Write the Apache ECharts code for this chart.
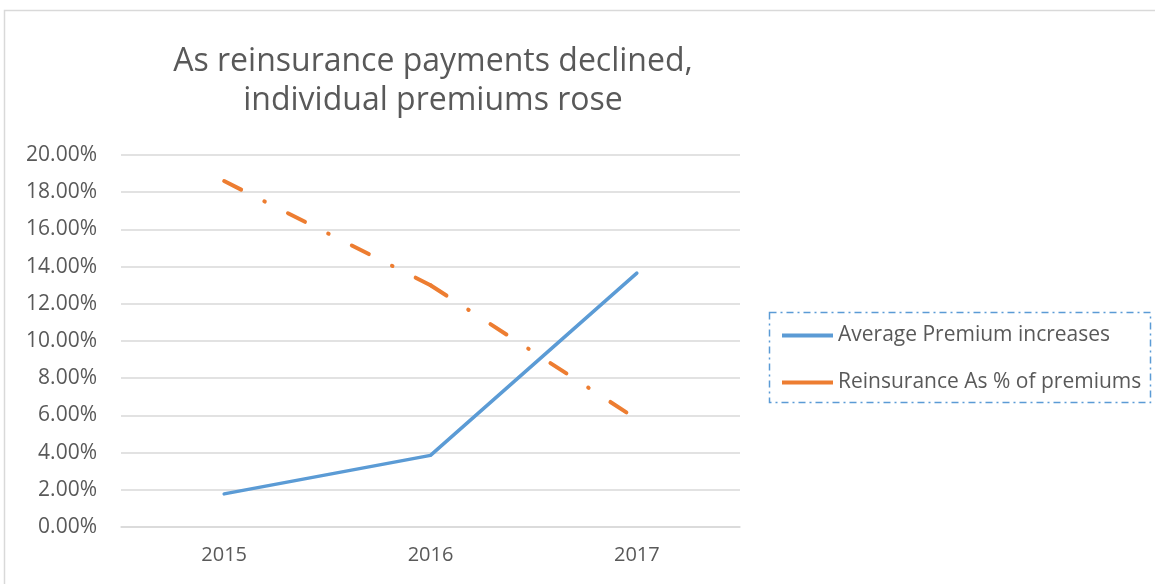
<!DOCTYPE html>
<html>
<head>
<meta charset="utf-8">
<script src="https://cdn.jsdelivr.net/npm/echarts@6/dist/echarts.min.js"></script>
<style>
  html, body { margin: 0; padding: 0; background: #fff; }
  #chart { width: 1155px; height: 584px; }
</style>
</head>
<body>
<div id="chart"></div>
<script>
// data
var years = ['2015', '2016', '2017']
var avgPremium = [1.78, 3.85, 13.65]
var reinsurance = [18.6, 13.0, 5.8]
var seriesNames = ['Average Premium increases', 'Reinsurance As % of premiums']

var gray = '#595959'
var blue = '#5b9bd5'
var orange = '#ed7d31'
var fontFamily = '"Open Sans", Lato, sans-serif'

// the dash pattern restarts at every point (like Excel does),
// so the dashed series is drawn one segment at a time
function segment(arr, i) {
  return arr.map(function (v, j) { return (j === i || j === i + 1) ? v : '-' })
}
var orangeSeries = []
for (var i = 0; i < reinsurance.length - 1; i++) {
  orangeSeries.push({
    name: seriesNames[1],
    type: 'line',
    data: segment(reinsurance, i),
    symbol: 'none',
    itemStyle: { color: orange },
    lineStyle: {
      color: orange,
      width: 4,
      // long dash, dot
      type: [19, 26, 0.5, 26],
      cap: 'round',
      join: 'round'
    }
  })
}

var myChart = echarts.init(document.getElementById('chart'))
var option = {
  animation: false,
  title: {
    text: 'As reinsurance payments declined,\nindividual premiums rose',
    left: 428,
    top: 37,
    textAlign: 'center',
    textStyle: {
      fontFamily: fontFamily,
      fontWeight: 'normal',
      fontSize: 32,
      lineHeight: 39,
      color: gray
    }
  },
  // outer frame + legend box
  graphic: [
    {
      type: 'rect',
      shape: { x: 4.5, y: 10.5, width: 1200, height: 700 },
      style: { fill: 'none', stroke: '#d9d9d9', lineWidth: 1.5 },
      silent: true
    },
    {
      type: 'rect',
      shape: { x: 769.5, y: 312.5, width: 381, height: 90 },
      style: { fill: 'none', stroke: blue, lineWidth: 1.5, lineDash: [7, 4, 2, 4] },
      silent: true
    }
  ],
  legend: {
    data: seriesNames,
    orient: 'vertical',
    left: 782,
    top: 325,
    padding: 0,
    icon: 'rect',
    itemWidth: 51,
    itemHeight: 4,
    itemGap: 26,
    textStyle: {
      fontFamily: fontFamily,
      fontSize: 21,
      lineHeight: 20,
      color: gray
    }
  },
  grid: {
    left: 121,
    right: 415,
    top: 155,
    bottom: 57
  },
  xAxis: {
    type: 'category',
    data: years,
    boundaryGap: true,
    axisLine: { show: true, lineStyle: { color: '#d9d9d9', width: 1.5 } },
    axisTick: { show: false },
    axisLabel: {
      color: gray,
      fontFamily: fontFamily,
      fontSize: 20,
      margin: 18
    }
  },
  yAxis: {
    type: 'value',
    min: 0,
    max: 20,
    interval: 2,
    axisLine: { show: false },
    axisTick: { show: false },
    axisLabel: {
      color: gray,
      fontFamily: fontFamily,
      fontSize: 21,
      margin: 24,
      formatter: function (v) { return v.toFixed(2) + '%' }
    },
    splitLine: { lineStyle: { color: '#d9d9d9', width: 1.5 } }
  },
  series: [
    {
      name: seriesNames[0],
      type: 'line',
      data: avgPremium,
      symbol: 'none',
      itemStyle: { color: blue },
      lineStyle: { color: blue, width: 3.5, cap: 'round', join: 'round' }
    }
  ].concat(orangeSeries)
}
myChart.setOption(option)
</script>
</body>
</html>
